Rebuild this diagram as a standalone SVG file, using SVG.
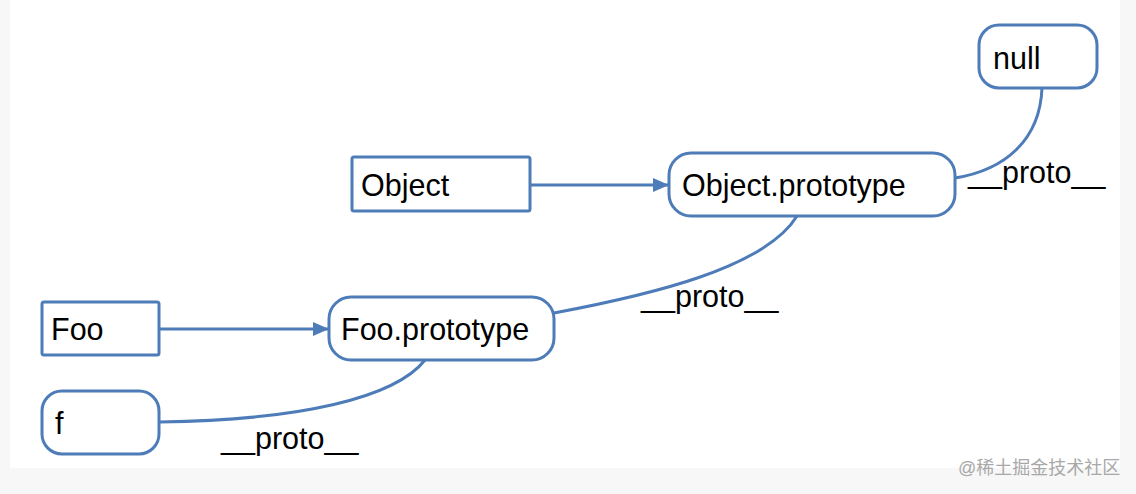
<svg xmlns="http://www.w3.org/2000/svg" width="1136" height="494" viewBox="0 0 1136 494">
<defs>
<marker id="arr" viewBox="0 0 16 14" refX="15" refY="7" markerWidth="16" markerHeight="14" markerUnits="userSpaceOnUse" orient="auto">
<path d="M0,0 L16,7 L0,14 Z" fill="#4d7cb8"/>
</marker>
<style>
.box{fill:#fff;stroke:#4d7cb8;stroke-width:3}
.lbl{font-family:"Liberation Sans",Arial,sans-serif;font-size:30.5px;fill:#000}
.edge{fill:none;stroke:#4d7cb8;stroke-width:3}
.wm{font-family:"Liberation Sans","Noto Sans CJK SC",sans-serif;font-size:18px;fill:#a8a8a8}
</style>
</defs>
<rect x="0" y="0" width="1136" height="494" fill="#f7f7f7"/>
<rect x="10" y="0" width="1110" height="468" fill="#ffffff"/>
<g id="connectors">
<path class="edge" d="M530,185 L668,185" marker-end="url(#arr)"/>
<path class="edge" d="M159,329 L328,329" marker-end="url(#arr)"/>
<path class="edge" d="M1042,88 C1040,140 1005,170 955,178"/>
<path class="edge" d="M797,216 C765,268 650,295 554,313"/>
<path class="edge" d="M425,360 C395,398 300,420 160,422"/>
<text class="lbl" x="968" y="183">__proto__</text>
<text class="lbl" x="641" y="307">__proto__</text>
<text class="lbl" x="221" y="449">__proto__</text>
</g>
<g id="null">
<rect class="box" x="979" y="25" width="118" height="63" rx="20"/>
<text class="lbl" x="993" y="69">null</text>
</g>
<g id="Object">
<rect class="box" x="352" y="157" width="178" height="54" rx="2"/>
<text class="lbl" x="361" y="196">Object</text>
</g>
<g id="ObjectPrototype">
<rect class="box" x="669" y="153" width="286" height="63" rx="22"/>
<text class="lbl" x="682" y="196">Object.prototype</text>
</g>
<g id="Foo">
<rect class="box" x="42" y="302" width="117" height="53" rx="2"/>
<text class="lbl" x="51" y="340">Foo</text>
</g>
<g id="FooPrototype">
<rect class="box" x="329" y="297" width="225" height="63" rx="22"/>
<text class="lbl" x="341" y="340">Foo.prototype</text>
</g>
<g id="f">
<rect class="box" x="42" y="391" width="117" height="63" rx="20"/>
<text class="lbl" x="55" y="434">f</text>
</g>
<text class="wm" x="958" y="474">@稀土掘金技术社区</text>
</svg>
